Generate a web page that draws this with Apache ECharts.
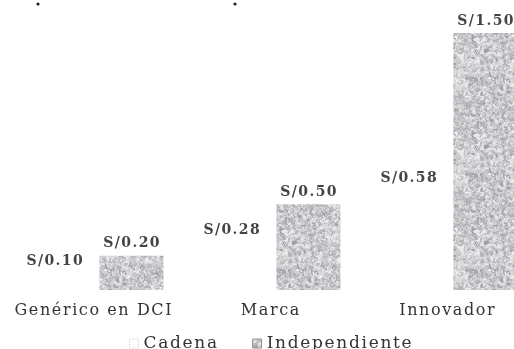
<!DOCTYPE html>
<html>
<head>
<meta charset="utf-8">
<script src="https://cdn.jsdelivr.net/npm/echarts@6/dist/echarts.min.js"></script>
<style>
  html, body { margin: 0; padding: 0; background: #ffffff; }
  #chart { width: 514px; height: 349px; }
</style>
</head>
<body>
<div id="chart"></div>
<script>
// Categories and price values (soles per unit)
const categories = ['Genérico en DCI', 'Marca', 'Innovador'];
const seriesNames = ['Cadena', 'Independiente'];
const cadena = [0.10, 0.28, 0.58];
const independiente = [0.20, 0.50, 1.50];

// Loosely tracked text: hair spaces between glyphs
const spaced = s => Array.from(s).join('\u200A');

// Fine grainy grey fill used for the "Independiente" bars
function makeGrain(size) {
  const c = document.createElement('canvas');
  c.width = size; c.height = size;
  const g = c.getContext('2d');
  g.fillStyle = '#d0d0d3';
  g.fillRect(0, 0, size, size);
  let s = 24681;
  const rnd = () => { s = (s * 1103515245 + 12345) & 0x7fffffff; return s / 0x7fffffff; };
  g.lineCap = 'round';
  for (let i = 0; i < size * size / 5; i++) {
    const x = rnd() * size, y = rnd() * size;
    const a = rnd() * Math.PI * 2, r = 0.6 + rnd() * 1.4;
    const k = rnd();
    g.strokeStyle = k < 0.45 ? '#adadb2' : (k < 0.6 ? '#97979d' : '#f0f0f2');
    g.lineWidth = 0.6 + rnd() * 0.6;
    g.beginPath();
    g.arc(x, y, r, a, a + Math.PI * (0.5 + rnd()));
    g.stroke();
  }
  return c;
}
const grain = makeGrain(96);

const labelStyle = {
  show: true,
  position: 'top',
  distance: 5,
  fontFamily: 'DejaVu Serif',
  fontSize: 14,
  fontWeight: 'bold',
  color: '#444444',
  formatter: p => spaced('S/' + p.value.toFixed(2))
};

const chart = echarts.init(document.getElementById('chart'), null, { renderer: 'canvas' });
chart.setOption({
  animation: false,
  backgroundColor: '#ffffff',
  grid: { left: 4.5, width: 531, top: 33, height: 257, outerBoundsMode: 'none', containLabel: false },
  xAxis: {
    type: 'category',
    data: categories,
    axisLine: { show: false },
    axisTick: { show: false },
    axisLabel: {
      interval: 0,
      fontFamily: 'DejaVu Serif', fontSize: 16, color: '#333333', margin: 13,
      formatter: v => spaced(v)
    }
  },
  yAxis: {
    type: 'value', min: 0, max: 1.5,
    show: false,
    splitLine: { show: false }
  },
  legend: {
    data: [
      { name: 'Cadena', itemStyle: { color: '#ffffff', borderColor: '#d0d0d0', borderWidth: 1, borderType: 'dotted' } },
      { name: 'Independiente', itemStyle: { color: { image: grain, repeat: 'repeat' }, borderColor: '#8f8f8f', borderWidth: 1 } }
    ],
    top: 330,
    left: 124,
    itemWidth: 9,
    itemHeight: 9,
    itemGap: 35,
    icon: 'rect',
    formatter: name => spaced(name),
    textStyle: { fontFamily: 'DejaVu Serif', fontSize: 17, color: '#333333' }
  },
  series: [
    {
      name: seriesNames[0], type: 'bar', data: cadena,
      barWidth: 64, barGap: '20%',
      itemStyle: { color: '#ffffff' },
      label: labelStyle
    },
    {
      name: seriesNames[1], type: 'bar', data: independiente,
      barWidth: 64,
      itemStyle: { color: { image: grain, repeat: 'repeat' } },
      label: labelStyle
    }
  ],
  graphic: [
    { type: 'circle', shape: { cx: 38, cy: 4, r: 1.6 }, style: { fill: '#222' } },
    { type: 'circle', shape: { cx: 235, cy: 4, r: 1.6 }, style: { fill: '#222' } }
  ]
});
</script>
</body>
</html>
